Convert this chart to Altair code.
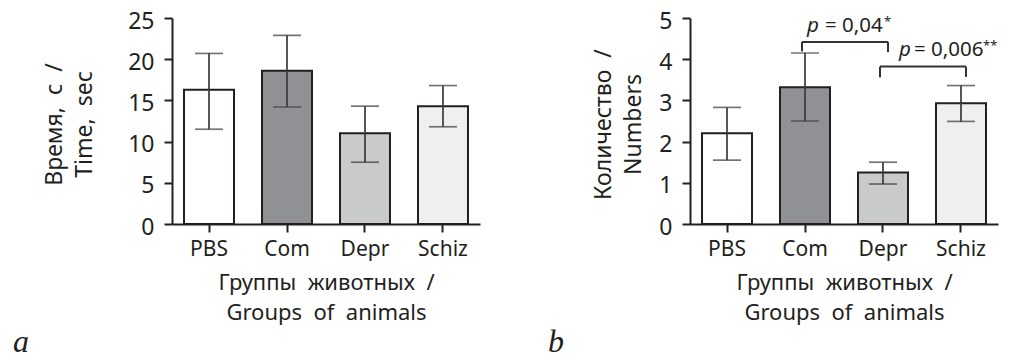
import altair as alt
import pandas as pd

# ---------------- data ----------------
groups = ["PBS", "Com", "Depr", "Schiz"]
fills = ["#ffffff", "#909194", "#c9cacc", "#efeff0"]

time_mean = [16.3, 18.6, 11.0, 14.3]
time_low = [11.5, 14.2, 7.5, 11.8]
time_high = [20.7, 22.9, 14.3, 16.8]
time_ticks = [0, 5, 10, 15, 20, 25]

num_mean = [2.2, 3.32, 1.25, 2.93]
num_low = [1.55, 2.5, 0.97, 2.49]
num_high = [2.83, 4.15, 1.5, 3.36]
num_ticks = [0, 1, 2, 3, 4, 5]

br_left = ["Com", "Depr"]
br_right = ["Depr", "Schiz"]
br_top = [4.42, 3.82]
br_left_end = [4.19, 3.56]
br_right_end = [4.17, 3.57]
p_text = ["= 0,04", "= 0,006"]
p_stars = ["*", "**"]
p_y = [4.66, 4.07]

S = " \u00a0"  # wide word gap as in the original typesetting
x_title = ["Группы" + S + "животных" + S + "/", "Groups" + S + "of" + S + "animals"]
y_title_a = ["Время," + S + "с" + S + "/", "Time," + S + "sec"]
y_title_b = ["Количество" + S + "/", "Numbers"]
panel_labels = ["a", "b"]

INK = "#231f20"
FONT = "Noto Sans"
W, H = 308, 206


def xenc(field):
    return alt.X(
        field,
        scale=alt.Scale(domain=groups, paddingInner=0.359, paddingOuter=0.154),
        axis=alt.Axis(
            title=x_title, labelAngle=0, labelFontSize=21, labelPadding=6,
            tickSize=8, titleFontSize=22, titleY=48, titleLineHeight=30,
        ),
    )


def panel(means, lows, highs, ymax, ticks, ytitle, ytitle_x, label, label_x):
    df = pd.DataFrame({"group": groups, "mean": means, "low": lows, "high": highs})
    yscale = alt.Scale(domain=[0, ymax], nice=False)
    base = alt.Chart(df)
    bars = base.mark_bar(stroke=INK, strokeWidth=2).encode(
        x=xenc("group:N"),
        y=alt.Y(
            "mean:Q", scale=yscale,
            axis=alt.Axis(
                values=ticks, title=ytitle, grid=False, labelFontSize=23,
                labelPadding=10, labelOffset=3, tickSize=8, titleFontSize=23,
                titleX=ytitle_x, titleY=106, titleBaseline="top",
                titleAlign="center", titleLineHeight=30,
            ),
        ),
        color=alt.Color("group:N", scale=alt.Scale(domain=groups, range=fills), legend=None),
    )
    err = base.mark_rule(color="#3a3a3a", strokeWidth=1.7).encode(
        x=xenc("group:N"), y="low:Q", y2="high:Q"
    )
    cap_hi = base.mark_tick(color="#3a3a3a", thickness=1.7, size=28).encode(
        x=xenc("group:N"), y="high:Q"
    )
    cap_lo = base.mark_tick(color="#3a3a3a", thickness=1.7, size=28).encode(
        x=xenc("group:N"), y="low:Q"
    )
    lab = alt.Chart(pd.DataFrame({"t": [label]})).mark_text(
        font="Liberation Serif", fontStyle="italic", fontSize=32,
        align="left", baseline="alphabetic", color=INK,
    ).encode(x=alt.value(label_x), y=alt.value(334), text="t:N")
    return [bars, err, cap_hi, cap_lo, lab]


left_layers = panel(time_mean, time_low, time_high, 25, time_ticks,
                    y_title_a, -129, panel_labels[0], -159)
left = alt.layer(*left_layers).properties(width=W, height=H)

right_layers = panel(num_mean, num_low, num_high, 5, num_ticks,
                     y_title_b, -98, panel_labels[1], -142)

bdf = pd.DataFrame({
    "l": br_left, "r": br_right, "top": br_top, "le": br_left_end,
    "re": br_right_end, "txt": p_text, "star": p_stars, "py": p_y,
    "i": list(range(len(br_left))),
})
bb = alt.Chart(bdf)
h_rule = bb.mark_rule(color="#333333", strokeWidth=2, xOffset=-3, x2Offset=5).encode(
    x=xenc("l:N"), x2="r:N", y="top:Q"
)
l_leg = bb.mark_rule(color="#333333", strokeWidth=2, xOffset=-3).encode(
    x=xenc("l:N"), y="top:Q", y2="le:Q"
)
r_leg = bb.mark_rule(color="#333333", strokeWidth=2, xOffset=5).encode(
    x=xenc("r:N"), y="top:Q", y2="re:Q"
)

# pixel nudges of the three pieces of each label (italic p, value, stars)
nudges = [(-76, -58, 1), (-62, -47, 22)]
ann_layers = []
for i, (dp, dm, ds) in enumerate(nudges):
    sub = bb.transform_filter(alt.datum.i == i)
    ann_layers.append(
        sub.mark_text(font=FONT, fontStyle="italic", fontSize=20.5, align="left",
                      baseline="alphabetic", color=INK, dx=dp).encode(
            x=xenc("r:N"), y="py:Q", text=alt.value("p"))
    )
    ann_layers.append(
        sub.mark_text(font=FONT, fontSize=20.5, align="left",
                      baseline="alphabetic", color=INK, dx=dm).encode(
            x=xenc("r:N"), y="py:Q", text="txt:N")
    )
    ann_layers.append(
        sub.mark_text(font=FONT, fontSize=13, align="left",
                      baseline="alphabetic", color=INK, dx=ds, dy=-6).encode(
            x=xenc("r:N"), y="py:Q", text="star:N")
    )

right = alt.layer(*right_layers, h_rule, l_leg, r_leg, *ann_layers).properties(
    width=W, height=H
)

chart = (
    alt.hconcat(left, right, spacing=210, bounds="flush")
    .configure_view(stroke=None)
    .configure_axis(
        domainColor=INK, domainWidth=2, tickColor=INK, tickWidth=2,
        labelColor=INK, titleColor=INK, labelFont=FONT, titleFont=FONT,
        titleFontWeight="normal", grid=False,
    )
    .properties(padding={"left": 5, "top": 2, "right": 5, "bottom": 0})
)

chart.save("out.html", embed_options={"renderer": "svg", "actions": False})
